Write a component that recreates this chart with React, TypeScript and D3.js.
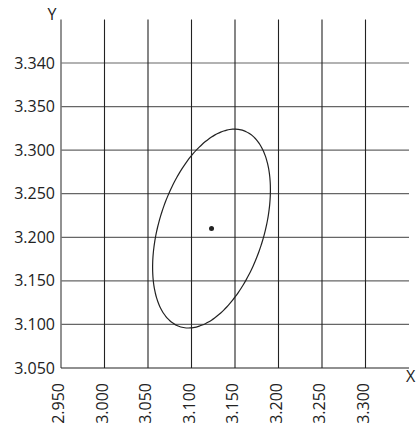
import React, { useRef, useEffect } from 'react';
import * as d3 from 'd3';

// grid ticks
const xTicks = [2.95, 3.0, 3.05, 3.1, 3.15, 3.2, 3.25, 3.3];
const xTickLabels = ['2.950', '3.000', '3.050', '3.100', '3.150', '3.200', '3.250', '3.300'];
const yTicks = [3.05, 3.1, 3.15, 3.2, 3.25, 3.3, 3.35, 3.4];
const yTickLabels = ['3.050', '3.100', '3.150', '3.200', '3.250', '3.300', '3.350', '3.340'];

// estimate point and its ellipse (sigma x, sigma y, correlation)
const center = [{ x: 3.123, y: 3.21 }];
const ellipse = [{ sx: 0.0677, sy: 0.1141, rho: 0.39 }];

const App = () => {
  const svgRef = useRef<SVGSVGElement>(null);

  useEffect(() => {
    const width = 416;
    const height = 429;
    const svg = d3.select(svgRef.current)
      .attr('width', width)
      .attr('height', height);
    svg.selectAll('*').remove();

    const x = d3.scaleLinear().domain([2.95, 3.35]).range([61, 409]);
    const y = d3.scaleLinear().domain([3.05, 3.4]).range([368, 63]);
    const yTop = y(3.45);
    const font = "'Open Sans', sans-serif";
    const fs = '16px';

    // horizontal grid
    svg.selectAll('.hgrid')
      .data(yTicks.slice(1))
      .enter()
      .append('line')
      .attr('x1', x(2.95))
      .attr('x2', x(3.35))
      .attr('y1', d => y(d))
      .attr('y2', d => y(d))
      .style('stroke', '#666')
      .style('stroke-width', 1.2);

    // vertical grid
    svg.selectAll('.vgrid')
      .data(xTicks.slice(1))
      .enter()
      .append('line')
      .attr('x1', d => x(d))
      .attr('x2', d => x(d))
      .attr('y1', y(3.05))
      .attr('y2', yTop)
      .style('stroke', '#222')
      .style('stroke-width', 1.1);

    // axes
    svg.append('line')
      .attr('x1', x(2.95)).attr('x2', x(2.95))
      .attr('y1', y(3.05)).attr('y2', yTop)
      .style('stroke', '#777')
      .style('stroke-width', 1.6);
    svg.append('line')
      .attr('x1', x(2.95)).attr('x2', x(3.35))
      .attr('y1', y(3.05)).attr('y2', y(3.05))
      .style('stroke', '#222')
      .style('stroke-width', 1.2);

    // y tick labels
    svg.selectAll('.ylab')
      .data(yTicks)
      .enter()
      .append('text')
      .attr('x', 55)
      .attr('y', d => y(d))
      .attr('dy', '0.35em')
      .attr('text-anchor', 'end')
      .style('font-family', font)
      .style('font-size', fs)
      .style('fill', '#222')
      .text((d, i) => yTickLabels[i]);

    // x tick labels
    svg.selectAll('.xlab')
      .data(xTicks)
      .enter()
      .append('text')
      .attr('transform', d => `translate(${x(d)}, 383) rotate(-90)`)
      .attr('dy', '0.2em')
      .attr('text-anchor', 'end')
      .style('font-family', font)
      .style('font-size', fs)
      .style('fill', '#222')
      .text((d, i) => xTickLabels[i]);

    // axis titles
    svg.append('text')
      .attr('x', 52).attr('y', 20)
      .attr('text-anchor', 'middle')
      .style('font-family', font)
      .style('font-size', fs)
      .style('fill', '#222')
      .text('Y');
    svg.append('text')
      .attr('x', 406).attr('y', 376)
      .attr('dy', '0.35em')
      .style('font-family', font)
      .style('font-size', fs)
      .style('fill', '#222')
      .text('X');

    // ellipse
    const e = ellipse[0];
    const c = center[0];
    const ts = d3.range(0, 360, 3).map(a => (a * Math.PI) / 180);
    const line = d3.line<number>()
      .x(t => x(c.x + e.sx * Math.cos(t)))
      .y(t => y(c.y + e.sy * (e.rho * Math.cos(t) - Math.sqrt(1 - e.rho * e.rho) * Math.sin(t))))
      .curve(d3.curveCardinalClosed);
    svg.append('path')
      .attr('d', line(ts))
      .style('fill', 'none')
      .style('stroke', '#222')
      .style('stroke-width', 1.2);

    svg.selectAll('.pt')
      .data(center)
      .enter()
      .append('circle')
      .attr('cx', d => x(d.x))
      .attr('cy', d => y(d.y))
      .attr('r', 2.5)
      .style('fill', '#222');
  }, []);

  return <svg ref={svgRef} style={{ position: 'absolute', left: 0, top: 0, background: '#fff' }}></svg>;
};

export default App;
